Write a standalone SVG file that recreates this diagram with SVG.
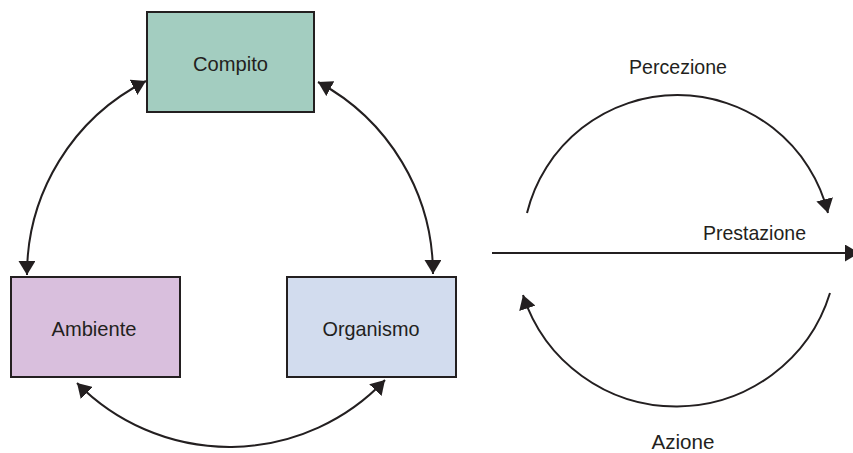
<svg xmlns="http://www.w3.org/2000/svg" width="853" height="453" viewBox="0 0 853 453">
<style>
.box{stroke:#231f20;stroke-width:2}
.lbl{font-family:"Liberation Sans",Arial,sans-serif;font-size:21px;fill:#231f20;text-anchor:middle}
.con{fill:none;stroke:#231f20;stroke-width:2}
</style>
<defs>
<marker id="ah" markerUnits="userSpaceOnUse" markerWidth="15" markerHeight="17" refX="14" refY="8.5" orient="auto-start-reverse" viewBox="0 0 15 17">
<path d="M0,0 L14,8.5 L0,17 z" fill="#231f20"/>
</marker>
</defs>
<rect width="853" height="453" fill="#ffffff"/>
<g id="compito">
<rect class="box" x="147" y="12" width="167" height="100" fill="#a3cdc0"/>
<text class="lbl" x="230.5" y="71" textLength="75" lengthAdjust="spacingAndGlyphs">Compito</text>
</g>
<g id="ambiente">
<rect class="box" x="11" y="277" width="169" height="100" fill="#d9bfdd"/>
<text class="lbl" x="94" y="336" textLength="85" lengthAdjust="spacingAndGlyphs">Ambiente</text>
</g>
<g id="organismo">
<rect class="box" x="287" y="277" width="169" height="100" fill="#d2dcee"/>
<text class="lbl" x="371" y="336" textLength="97" lengthAdjust="spacingAndGlyphs">Organismo</text>
</g>
<g id="labels">
<text class="lbl" x="678" y="74" textLength="98" lengthAdjust="spacingAndGlyphs">Percezione</text>
<text class="lbl" x="754.5" y="240" textLength="103" lengthAdjust="spacingAndGlyphs">Prestazione</text>
<text class="lbl" x="683" y="449" textLength="63" lengthAdjust="spacingAndGlyphs">Azione</text>
</g>
<g id="connectors">
<path class="con" d="M146,81 A217,217 0 0 0 27,275" marker-start="url(#ah)" marker-end="url(#ah)"/>
<path class="con" d="M318,82 A218,218 0 0 1 433,274" marker-start="url(#ah)" marker-end="url(#ah)"/>
<path class="con" d="M77,383 A214,214 0 0 0 385,380" marker-start="url(#ah)" marker-end="url(#ah)"/>
<path class="con" d="M527,213 A155,155 0 0 1 828,213" marker-end="url(#ah)"/>
<path class="con" d="M830,293 A161,161 0 0 1 523,295" marker-end="url(#ah)"/>
<path class="con" d="M492,253 L859,253" marker-end="url(#ah)"/>
</g>
</svg>
